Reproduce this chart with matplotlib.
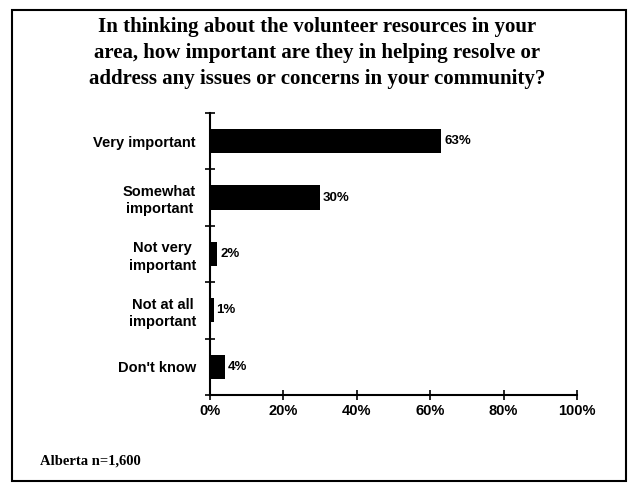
import matplotlib.pyplot as plt
from matplotlib.patches import Rectangle
import numpy as np

# Survey responses
categories = ["Very important", "Somewhat\nimportant", "Not very\nimportant",
              "Not at all\nimportant", "Don't know"]
values = [63, 30, 2, 1, 4]
x_ticks = [0, 20, 40, 60, 80, 100]
x_labels = ["0%", "20%", "40%", "60%", "80%", "100%"]

title = ("In thinking about the volunteer resources in your\n"
         "area, how important are they in helping resolve or\n"
         "address any issues or concerns in your community?")

fig = plt.figure(figsize=(6.34, 4.87), dpi=100)
ax = fig.add_axes([0.331, 0.189, 0.579, 0.579])

y = np.arange(len(categories))
ax.barh(y, values, height=0.43, color="black")

for yi, v in zip(y, values):
    ax.text(v + 0.8, yi, f"{v}%", va="center", ha="left",
            fontsize=9.5, fontweight="bold", family="Liberation Sans")

ax.set_xlim(0, 100)
ax.set_ylim(len(categories) - 0.5, -0.5)

ax.set_yticks(y)
ax.set_yticklabels(categories, fontsize=10.5, fontweight="bold",
                   family="Liberation Sans", ha="right",
                   multialignment="center", linespacing=1.3)
ax.tick_params(axis="y", which="major", length=0, pad=10)
ax.set_yticks(np.arange(-0.5, len(categories), 1), minor=True)
ax.tick_params(axis="y", which="minor", length=7, direction="inout", width=1.2)

ax.set_xticks(x_ticks)
ax.set_xticklabels(x_labels, fontsize=10.5, fontweight="bold", family="Liberation Sans")
ax.tick_params(axis="x", length=7, direction="inout", width=1.2, pad=3)

for s in ["top", "right"]:
    ax.spines[s].set_visible(False)
for s in ["left", "bottom"]:
    ax.spines[s].set_linewidth(1.5)

fig.text(0.5, 0.966, title, ha="center", va="top", fontsize=15,
         fontweight="bold", family="Liberation Serif", linespacing=1.4)
fig.text(0.063, 0.053, "Alberta n=1,600", ha="left", va="center",
         fontsize=10.5, fontweight="bold", family="Liberation Serif")

# outer frame
fig.patches.append(Rectangle((12 / 634, 1 - 481 / 487), 614 / 634, 471 / 487,
                             transform=fig.transFigure, fill=False,
                             edgecolor="black", linewidth=1.5))

fig.savefig("out.png", dpi=100)
